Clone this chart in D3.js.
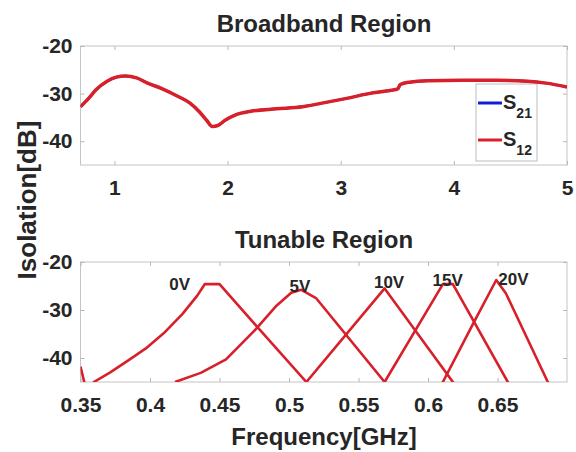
<!DOCTYPE html>
<html lang="en">
<head>
    <meta charset="UTF-8">
    <title>Isolation</title>
    <script src="https://cdn.jsdelivr.net/npm/d3@7"></script>
    <style type="text/css">
        body{ margin:0; background:#fff; }
        text{ font-family:"Liberation Sans", Arial, sans-serif; font-weight:bold; fill:#262626; }
        .domain{ display:none; }
        .tick line{ stroke:#b8b8b8; }
    </style>
</head>
<body>
<svg width="576" height="452"></svg>
<script type="text/javascript">

    // broadband region (GHz, dB)
    var broadFreq = [0.7,0.772,0.837,0.935,1.016,1.098,1.196,1.293,1.424,1.554,1.668,1.75,1.815,1.864,1.913,1.978,2.076,2.206,2.434,2.662,2.858,3.053,3.25,3.445,3.504,3.526,3.608,3.771,4.064,4.39,4.65,4.815,5.0];
    var broadS12  = [-32.75,-31.0,-29.2,-27.4,-26.55,-26.3,-26.7,-27.8,-29.0,-30.5,-32.0,-33.8,-35.6,-36.9,-36.7,-35.6,-34.4,-33.7,-33.2,-32.75,-31.9,-31.0,-30.0,-29.3,-29.0,-28.1,-27.6,-27.3,-27.2,-27.2,-27.4,-27.8,-28.6];
    var broadS21  = broadS12.slice();

    // tunable region, one curve per bias voltage
    var biasLabels = ["0V","5V","10V","15V","20V"];
    var tuneFreq = [
        [0.35,0.3535,0.3585,0.3596,0.3714,0.3844,0.397,0.41,0.4234,0.434,0.4390,0.4395,0.450,0.4765,0.5125,0.516],
        [0.418,0.4365,0.4547,0.4755,0.491,0.5016,0.5089,0.5197,0.5688,0.572],
        [0.509,0.5125,0.5688,0.6179,0.621],
        [0.565,0.5688,0.6107,0.6179,0.6574,0.660],
        [0.608,0.6107,0.6322,0.6491,0.656,0.6862,0.689]
    ];
    var tuneDb = [
        [-41.8,-46,-46,-45,-43,-40.5,-38,-34.8,-30.8,-27,-24.8,-24.6,-24.6,-33.3,-45,-46],
        [-45,-43.1,-40.3,-34.2,-29.1,-26.4,-25.8,-27.6,-45,-46],
        [-46,-45,-25.5,-45,-46],
        [-46,-45,-24.6,-24.6,-45,-46],
        [-46,-45,-33.0,-23.75,-26.5,-45,-46]
    ];
    var labelFreq = [0.4214,0.5079,0.5720,0.6142,0.6615];
    var labelDb   = [-24.6,-25.0,-24.2,-23.8,-23.5];

    var yTicks = [-20,-30,-40];
    var broadTicks = [1,2,3,4,5];
    var tuneTicks = [0.35,0.4,0.45,0.5,0.55,0.6,0.65];

    var red = "#d8202a";
    var blue = "#1020d8";

    var svg = d3.select("svg");

    var left = 80.5, right = 567;

    var x1 = d3.scaleLinear().domain([0.7,5]).range([left,right]);
    var y1 = d3.scaleLinear().domain([-45,-20]).range([165,46]);
    var x2 = d3.scaleLinear().domain([0.35,0.7]).range([left,right]);
    var y2 = d3.scaleLinear().domain([-45,-20]).range([382,262]);

    var plain = function(d){ return String(d); };

    function drawPanel(x, y, xt, title, clipId){
        var g = svg.append("g");
        var top = y.range()[1], bot = y.range()[0];

        g.append("rect")
            .attr("x",left).attr("y",top)
            .attr("width",right-left).attr("height",bot-top)
            .attr("fill","#fff").attr("stroke","#c4c4c4").attr("stroke-width",1);

        svg.append("clipPath").attr("id",clipId)
            .append("rect")
            .attr("x",left).attr("y",top)
            .attr("width",right-left).attr("height",bot-top);

        g.append("g").attr("transform","translate(0,"+bot+")")
            .call(d3.axisBottom(x).tickValues(xt).tickFormat(plain).tickSizeInner(-4).tickSizeOuter(0).tickPadding(15))
            .selectAll("text").style("font-size","21px").attr("fill","#333");
        g.append("g").attr("transform","translate(0,"+top+")")
            .call(d3.axisTop(x).tickValues(xt).tickFormat("").tickSizeInner(-4).tickSizeOuter(0));
        g.append("g").attr("transform","translate("+left+",0)")
            .call(d3.axisLeft(y).tickValues(yTicks).tickFormat(plain).tickSizeInner(-4).tickSizeOuter(0).tickPadding(8))
            .selectAll("text").style("font-size","21px").attr("fill","#333");
        g.append("g").attr("transform","translate("+right+",0)")
            .call(d3.axisRight(y).tickValues(yTicks).tickFormat("").tickSizeInner(-4).tickSizeOuter(0));

        svg.selectAll("text").attr("font-family",null);

        svg.append("text")
            .attr("x",324).attr("y",top-22).attr("dy","0.35em")
            .attr("text-anchor","middle")
            .style("font-size","24px")
            .text(title);
        return g;
    }

    // 上图 broadband
    var p1 = drawPanel(x1, y1, broadTicks, "Broadband Region", "clip1");

    var line1 = d3.line()
        .x(function(d){ return x1(d[0]); })
        .y(function(d){ return y1(d[1]); })
        .curve(d3.curveMonotoneX);

    // legend box (drawn under the curve)
    var lg = svg.append("g");
    lg.append("rect").attr("x",476).attr("y",84).attr("width",61).attr("height",77)
        .attr("fill","#fff").attr("stroke","#bdbdbd").attr("stroke-width",1);
    var legendItems = [{name:"21", color:blue, y:103},{name:"12", color:red, y:140}];
    legendItems.forEach(function(it){
        lg.append("line").attr("x1",478).attr("x2",502).attr("y1",it.y).attr("y2",it.y)
            .attr("stroke",it.color).attr("stroke-width",3);
        var t = lg.append("text").attr("x",503).attr("y",it.y+6).style("font-size","20px");
        t.append("tspan").text("S");
        t.append("tspan").attr("dy",9).style("font-size","14px").text(it.name);
    });

    p1.append("path")
        .datum(d3.zip(broadFreq, broadS21))
        .attr("clip-path","url(#clip1)")
        .attr("fill","none").attr("stroke",blue).attr("stroke-width",2.5)
        .attr("d",line1);
    svg.append("path")
        .datum(d3.zip(broadFreq, broadS12))
        .attr("clip-path","url(#clip1)")
        .attr("fill","none").attr("stroke",red).attr("stroke-width",3.5)
        .attr("stroke-linejoin","round")
        .attr("d",line1);

    // 下图 tunable
    var p2 = drawPanel(x2, y2, tuneTicks, "Tunable Region", "clip2");

    var line2 = d3.line()
        .x(function(d){ return x2(d[0]); })
        .y(function(d){ return y2(d[1]); });

    svg.append("g").attr("clip-path","url(#clip2)")
        .selectAll("path")
        .data(tuneFreq.map(function(f,i){ return d3.zip(f, tuneDb[i]); }))
        .enter()
        .append("path")
        .attr("fill","none").attr("stroke",red).attr("stroke-width",2.6)
        .attr("stroke-linejoin","round")
        .attr("d",line2);

    svg.append("g").selectAll("text")
        .data(biasLabels)
        .enter()
        .append("text")
        .attr("x",function(d,i){ return x2(labelFreq[i]); })
        .attr("y",function(d,i){ return y2(labelDb[i]); })
        .attr("text-anchor","middle").attr("dy","0.35em")
        .style("font-size","17px")
        .text(function(d){ return d; });

    // axis labels
    svg.append("text")
        .attr("x",324).attr("y",437).attr("dy","0.35em")
        .attr("text-anchor","middle")
        .style("font-size","24px")
        .text("Frequency[GHz]");
    svg.append("text")
        .attr("transform","translate(27,200) rotate(-90)")
        .attr("dy","0.35em")
        .attr("text-anchor","middle")
        .style("font-size","26px")
        .text("Isolation[dB]");

</script>
</body>
</html>
